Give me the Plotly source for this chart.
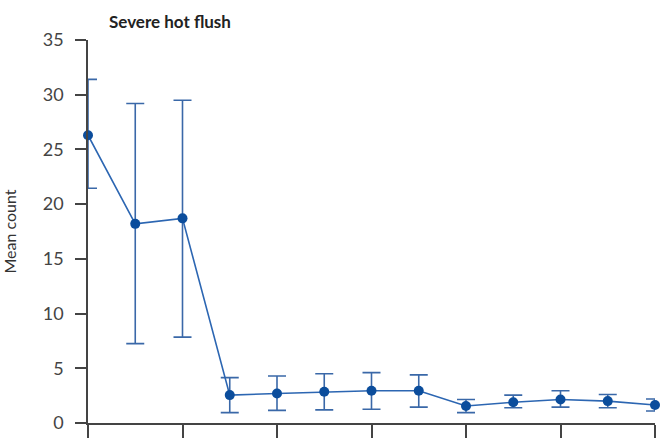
import plotly.graph_objects as go

visits = list(range(13))
mean_count = [26.3, 18.2, 18.7, 2.55, 2.7, 2.85, 2.95, 2.95, 1.55, 1.9, 2.15, 2.0, 1.65]
err_upper = [31.4, 29.2, 29.5, 4.15, 4.3, 4.5, 4.6, 4.4, 2.15, 2.55, 2.95, 2.6, 2.2]
err_lower = [21.45, 7.25, 7.85, 0.95, 1.15, 1.2, 1.25, 1.45, 0.95, 1.4, 1.45, 1.4, 1.1]

plus = [u - m for u, m in zip(err_upper, mean_count)]
minus = [m - l for m, l in zip(mean_count, err_lower)]

y_ticks = [0, 5, 10, 15, 20, 25, 30, 35]
x_ticks = [0, 2, 4, 6, 8, 10, 12]

fig = go.Figure()
fig.add_trace(go.Scatter(
    x=visits, y=mean_count, mode="lines+markers",
    line=dict(color="#2c66b2", width=1.6),
    marker=dict(color="#0b4d9c", size=10),
    error_y=dict(type="data", symmetric=False, array=plus, arrayminus=minus,
                 color="#3a68a8", thickness=1.6, width=9),
    cliponaxis=False, showlegend=False,
))

fig.update_layout(
    width=664, height=438,
    margin=dict(l=88, r=9, t=40, b=15, autoexpand=False),
    paper_bgcolor="white", plot_bgcolor="white",
    font=dict(family="Lato, Open Sans, sans-serif", color="#333333", size=17),
    xaxis=dict(range=[0, 12], tickvals=x_ticks, showticklabels=False,
               ticks="outside", ticklen=14, tickcolor="#444444", tickwidth=1.5,
               showline=True, linecolor="#444444", linewidth=1.5,
               showgrid=False, zeroline=False, automargin=False),
    yaxis=dict(range=[0, 35], tickvals=y_ticks, ticks="outside", ticklen=11,
               tickcolor="#444444", tickwidth=1.5,
               showline=True, linecolor="#444444", linewidth=1.5,
               showgrid=False, zeroline=False, automargin=False,
               ticklabelstandoff=8,
               title=dict(text="Mean count", font=dict(size=16), standoff=24),
               tickfont=dict(size=18, color="#444444")),
    annotations=[dict(text="<b>Severe hot flush</b>", xref="paper", yref="paper",
                      x=(107 - 88) / 567, y=1, xanchor="left", yanchor="bottom",
                      yshift=6, showarrow=False,
                      font=dict(size=17, color="#222222"))],
)

fig.write_html("out.html")
